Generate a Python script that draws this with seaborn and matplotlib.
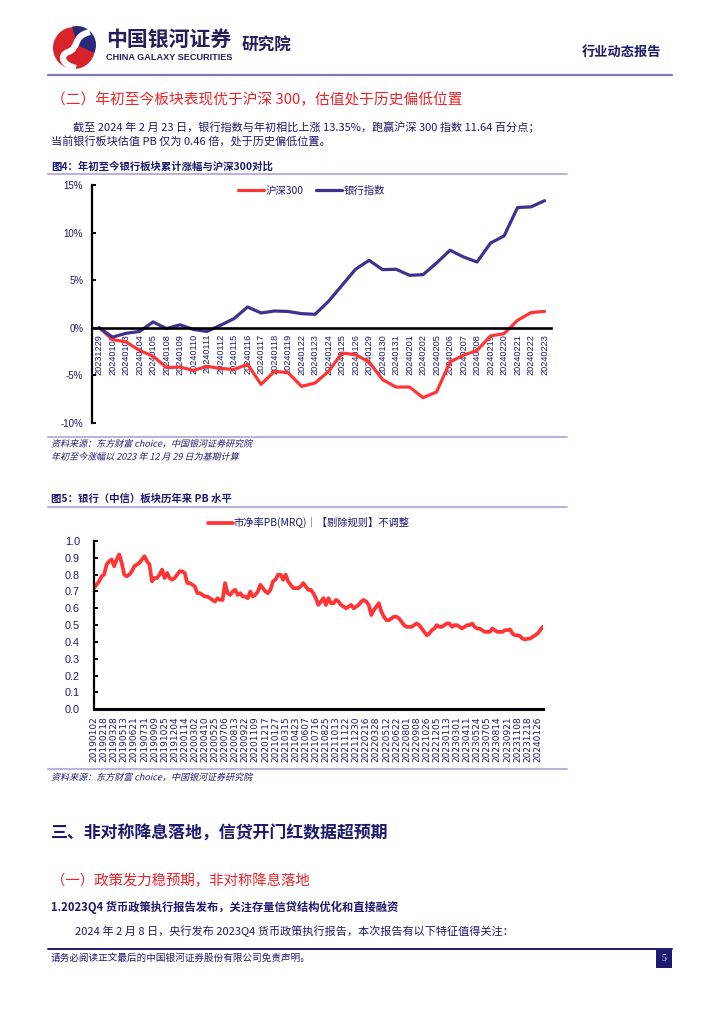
import numpy as np
import pandas as pd
import seaborn as sns
import matplotlib.pyplot as plt
from matplotlib.lines import Line2D
from matplotlib.patches import Rectangle, Circle, Wedge, PathPatch
from matplotlib.path import Path
from matplotlib.textpath import TextPath
from matplotlib.font_manager import FontProperties
from matplotlib.transforms import Affine2D

# ---- 图4: 年初至今银行板块累计涨幅与沪深300对比 (%)
dates1 = ['20231229', '20240102', '20240103', '20240104', '20240105', '20240108',
          '20240109', '20240110', '20240111', '20240112', '20240115', '20240116',
          '20240117', '20240118', '20240119', '20240122', '20240123', '20240124',
          '20240125', '20240126', '20240129', '20240130', '20240131', '20240201',
          '20240202', '20240205', '20240206', '20240207', '20240208', '20240219',
          '20240220', '20240221', '20240222', '20240223']
hs300 = [0, -1.26, -1.5, -2.4, -3.0, -4.2, -4.15, -4.5, -4.07, -4.3, -4.4, -3.86,
         -5.97, -4.6, -4.74, -6.18, -5.83, -4.6, -2.67, -2.85, -3.6, -5.47, -6.25, -6.25,
         -7.37, -6.77, -3.6, -2.9, -2.4, -0.88, -0.63, 0.77, 1.58, 1.71]
bank = [0, -1.0, -0.6, -0.4, 0.6, -0.1, 0.3, -0.2, -0.4, 0.25, 0.95, 2.17,
        1.54, 1.75, 1.7, 1.47, 1.4, 2.77, 4.45, 6.14, 7.08, 6.1, 6.14, 5.5,
        5.57, 6.8, 8.14, 7.43, 6.9, 8.9, 9.64, 12.63, 12.7, 13.35]
series_names = ['沪深300', '银行指数']
yticks1 = [-10, -5, 0, 5, 10, 15]

# ---- 图5: 银行(中信)板块历年来PB水平, one reading every 7 trading days
pb_labels = ['20190102', '20190218', '20190328', '20190513', '20190621', '20190731',
             '20190909', '20191025', '20191204', '20200114', '20200302', '20200410',
             '20200525', '20200706', '20200813', '20200922', '20201109', '20201217',
             '20210127', '20210315', '20210423', '20210607', '20210716', '20210825',
             '20211013', '20211122', '20211230', '20220216', '20220328', '20220512',
             '20220622', '20220801', '20220908', '20221026', '20221205', '20230113',
             '20230301', '20230411', '20230524', '20230705', '20230814', '20230921',
             '20231108', '20231218', '20240126']
pb = [0.72, 0.74, 0.76, 0.79, 0.80, 0.86, 0.88, 0.89, 0.85, 0.89,
      0.92, 0.87, 0.80, 0.79, 0.80, 0.82, 0.85, 0.86, 0.87, 0.89,
      0.91, 0.88, 0.86, 0.76, 0.78, 0.78, 0.80, 0.83, 0.78, 0.81,
      0.78, 0.77, 0.78, 0.80, 0.82, 0.82, 0.81, 0.75, 0.75, 0.74,
      0.73, 0.69, 0.69, 0.68, 0.67, 0.67, 0.66, 0.65, 0.64, 0.66,
      0.65, 0.65, 0.75, 0.69, 0.68, 0.70, 0.71, 0.68, 0.69, 0.67,
      0.67, 0.66, 0.70, 0.67, 0.68, 0.70, 0.74, 0.72, 0.70, 0.69,
      0.71, 0.76, 0.77, 0.80, 0.80, 0.77, 0.80, 0.76, 0.74, 0.72,
      0.72, 0.72, 0.73, 0.75, 0.73, 0.71, 0.71, 0.69, 0.66, 0.62,
      0.64, 0.66, 0.62, 0.66, 0.63, 0.63, 0.65, 0.64, 0.62, 0.61,
      0.60, 0.61, 0.62, 0.60, 0.61, 0.62, 0.64, 0.65, 0.64, 0.62,
      0.56, 0.59, 0.61, 0.63, 0.58, 0.55, 0.53, 0.53, 0.54, 0.55,
      0.55, 0.54, 0.52, 0.50, 0.49, 0.49, 0.49, 0.50, 0.51, 0.50,
      0.48, 0.46, 0.44, 0.45, 0.47, 0.48, 0.50, 0.49, 0.49, 0.50,
      0.51, 0.51, 0.49, 0.50, 0.50, 0.49, 0.48, 0.49, 0.50, 0.50,
      0.51, 0.49, 0.48, 0.48, 0.47, 0.46, 0.46, 0.46, 0.48, 0.47,
      0.46, 0.46, 0.46, 0.47, 0.47, 0.475, 0.45, 0.44, 0.44, 0.435,
      0.42, 0.415, 0.42, 0.42, 0.43, 0.44, 0.45, 0.47, 0.49]
pb_step = 7      # trading days between readings
label_step = 28  # trading days between axis labels
pb_name = '市净率PB(MRQ)｜【剔除规则】不调整'

NAVY = '#1c1a6c'
DARK = '#221f5a'
RED_T = '#ec2328'
RED = '#ff3535'
BLUE = '#3d3290'
LILAC = '#b9b4da'
RULE = '#7f78b8'

sns.set_style('white')
plt.rcParams['font.family'] = ['Noto Sans CJK SC', 'DejaVu Sans']
plt.rcParams['axes.unicode_minus'] = False

W, H = 724, 1024
fig = plt.figure(figsize=(W / 100, H / 100), dpi=100)


def fx(x):
    return x / W


def fy(y):
    return 1 - y / H


def txt(x, y, s, **kw):
    kw.setdefault('va', 'center')
    kw.setdefault('color', NAVY)
    fig.text(fx(x), fy(y), s, **kw)


def italic(x, y, s, size=6.5, color=NAVY):
    # the CJK font has no italic face, so slant the glyph outlines
    tp = TextPath((0, 0), s, size=size, prop=FontProperties(family='Noto Sans CJK SC'))
    tr = (Affine2D().skew_deg(14, 0).scale(1 / 72)
          + Affine2D().translate(x / 100, (H - y) / 100 - size * 0.36 / 72)
          + fig.dpi_scale_trans)
    fig.add_artist(PathPatch(tp, transform=tr, fc=color, ec='none'))


def rule(y, x0, x1, color=LILAC, lw=1.5):
    fig.add_artist(Line2D([fx(x0), fx(x1)], [fy(y), fy(y)], color=color, lw=lw))


def axes_px(left, top, right, bottom):
    return fig.add_axes([fx(left), fy(bottom), (right - left) / W, (bottom - top) / H])


# ---- header
logo = axes_px(50, 24, 100, 70)
logo.set_xlim(0, 50)
logo.set_ylim(0, 46)
logo.set_aspect('equal')
logo.axis('off')
logo.add_patch(Circle((24, 22), 21, fc='#d8232a', ec='none'))
logo.add_patch(Wedge((27, 25), 19, -25, 105, fc='#2a2a7a', ec='none'))
s_curve = Path([(40, 38), (22, 34), (30, 22), (18, 18), (8, 14), (14, 4), (26, 2)],
               [Path.MOVETO, Path.CURVE4, Path.CURVE4, Path.CURVE4, Path.CURVE4,
                Path.CURVE4, Path.CURVE4])
logo.add_patch(PathPatch(s_curve, fc='none', ec='white', lw=4.5))

txt(106, 39, '中国银河证券', fontsize=15, weight='bold', color=DARK)
txt(106, 57, 'CHINA GALAXY SECURITIES', fontsize=6.6, weight='bold', color=DARK,
    family='Liberation Sans')
txt(242, 46, '研究院', fontsize=12, weight='bold', color=DARK)
txt(661, 52, '行业动态报告', fontsize=9.5, weight='bold', ha='right')
rule(75, 48, 672, color=RULE, lw=1.6)

txt(51, 100, '（二）年初至今板块表现优于沪深 300，估值处于历史偏低位置', fontsize=10.6, color=RED_T)
txt(73, 127.5, '截至 2024 年 2 月 23 日，银行指数与年初相比上涨 13.35%，跑赢沪深 300 指数 11.64 百分点；',
    fontsize=8)
txt(51, 142.5, '当前银行板块估值 PB 仅为 0.46 倍，处于历史偏低位置。', fontsize=8)

# ---- 图4
txt(51, 166.5, '图4：年初至今银行板块累计涨幅与沪深300对比', fontsize=7.5, weight='bold')
rule(174, 48, 567)

n = len(dates1)
df1 = pd.DataFrame({
    'pos': np.tile(np.arange(n), 2),
    'value': hs300 + bank,
    'series': np.repeat(series_names, n),
})
ax1 = axes_px(92.3, 185, 551.3, 422.7)
sns.lineplot(data=df1, x='pos', y='value', hue='series', hue_order=series_names,
             palette={'沪深300': RED, '银行指数': BLUE}, lw=2.3, ax=ax1)
ax1.set_xlim(-0.5, n - 0.5)
ax1.set_ylim(-10, 15)
ax1.set_xlabel('')
ax1.set_ylabel('')
for side in ['top', 'right']:
    ax1.spines[side].set_visible(False)
ax1.spines['bottom'].set_position(('data', 0))
ax1.spines['bottom'].set_linewidth(1.9)
ax1.spines['left'].set_linewidth(1.6)
ax1.spines['bottom'].set_color('black')
ax1.spines['left'].set_color('black')
ax1.set_xticks(np.arange(n))
ax1.set_xticklabels(dates1, rotation=90, family='Liberation Sans', fontsize=6.6, color=NAVY)
ax1.set_xticks(np.arange(n - 1) + 0.5, minor=True)
ax1.tick_params(axis='x', which='major', length=0, pad=4.5)
ax1.tick_params(axis='x', which='minor', direction='in', length=3, width=1.4, color='black')
ax1.set_yticks(yticks1)
ax1.set_yticklabels([f'{v}%' for v in yticks1], family='Liberation Sans', fontsize=7,
                    color=NAVY)
ax1.tick_params(axis='y', direction='in', length=3, width=1.4, color='black', pad=6.5, left=True)
ax1.legend(loc='center', bbox_to_anchor=(fx(311.5), fy(190.7)), bbox_transform=fig.transFigure,
           ncol=2, frameon=False, fontsize=7.5, handlelength=2.5, handletextpad=0.15,
           columnspacing=1.15, borderpad=0, labelcolor=NAVY)

rule(436.5, 48, 567)
italic(51, 443.5, '资料来源：东方财富 choice，中国银河证券研究院')
italic(51, 456.5, '年初至今涨幅以 2023 年 12 月 29 日为基期计算')

# ---- 图5
txt(51, 499, '图5：银行（中信）板块历年来 PB 水平', fontsize=7.5, weight='bold')
rule(506.7, 48, 567)

df2 = pd.DataFrame({'day': np.arange(len(pb)) * pb_step, 'pb': pb})
ax2 = axes_px(94, 541, 542.7, 709.3)
sns.lineplot(data=df2, x='day', y='pb', color=RED, lw=2.7, ax=ax2, label=pb_name)
ax2.set_xlim(0, df2['day'].iloc[-1])
ax2.set_ylim(0, 1)
ax2.set_xlabel('')
ax2.set_ylabel('')
for side in ['top', 'right']:
    ax2.spines[side].set_visible(False)
ax2.spines['bottom'].set_linewidth(2.2)
ax2.spines['left'].set_linewidth(1.6)
ax2.spines['bottom'].set_color('black')
ax2.spines['left'].set_color('black')
ax2.set_xticks(np.arange(len(pb_labels)) * label_step)
ax2.set_xticklabels(pb_labels, rotation=90, family='DejaVu Sans', fontsize=6.5, color=NAVY)
ax2.tick_params(axis='x', length=0, pad=5)
yt2 = np.round(np.arange(0, 1.01, 0.1), 1)
ax2.set_yticks(yt2)
ax2.set_yticklabels([f'{v:.1f}' for v in yt2], family='Liberation Sans', fontsize=7.8,
                    color=NAVY)
ax2.tick_params(axis='y', direction='in', length=3, width=1.4, color='black', pad=10, left=True)
ax2.legend(loc='center', bbox_to_anchor=(fx(309), fy(522.7)), bbox_transform=fig.transFigure,
           frameon=False, fontsize=7.4, handlelength=2.4, handletextpad=0.1, borderpad=0,
           labelcolor=NAVY)

rule(769.3, 48, 567)
italic(51, 777, '资料来源：东方财富 choice，中国银河证券研究院')

# ---- following section
txt(51, 834, '三、非对称降息落地，信贷开门红数据超预期', fontsize=12.2, weight='bold')
txt(51, 880.5, '（一）政策发力稳预期，非对称降息落地', fontsize=10.4, color=RED_T)
txt(51, 907, '1.2023Q4 货币政策执行报告发布，关注存量信贷结构优化和直接融资', fontsize=8.1,
    weight='bold')
txt(75, 931.5, '2024 年 2 月 8 日，央行发布 2023Q4 货币政策执行报告，本次报告有以下特征值得关注：',
    fontsize=8)

# ---- footer
rule(948.5, 48, 672, color=NAVY, lw=1.4)
txt(51, 958.5, '请务必阅读正文最后的中国银河证券股份有限公司免责声明。', fontsize=6.9)
fig.add_artist(Rectangle((fx(655.5), fy(967.5)), (672 - 655.5) / W, 18 / H,
                         transform=fig.transFigure, fc=NAVY, ec='none'))
txt(663.7, 958.5, '5', fontsize=7, color='white', ha='center', family='Liberation Serif')

fig.savefig('out.png', dpi=100)
